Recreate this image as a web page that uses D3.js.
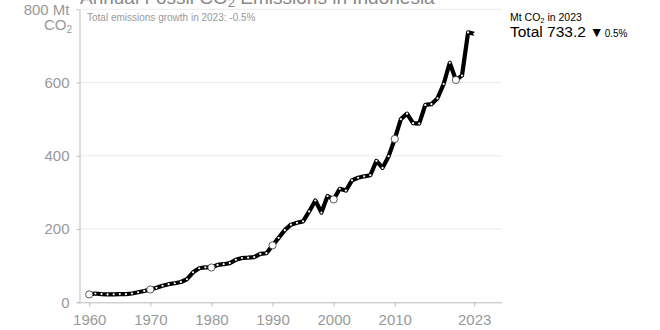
<!DOCTYPE html>
<html>
<head>
<meta charset="utf-8">
<script src="https://cdn.jsdelivr.net/npm/d3@7"></script>
<style>
  html, body { margin: 0; padding: 0; background: #fff; }
  svg { display: block; font-family: "Liberation Sans", Arial, Helvetica, sans-serif; }
</style>
</head>
<body>
<svg id="chart" width="660" height="330"></svg>
<script>
// Annual fossil CO2 emissions in Indonesia, Mt CO2
const years = d3.range(1960, 2024);
const emissions = [
  21.5, 24.0, 22.5, 21.5, 21.8, 22.5, 22.2, 24.0, 27.5, 31.0,
  35.0, 39.5, 45.0, 49.5, 52.0, 55.5, 63.0, 82.0, 93.0, 95.5,
  95.0, 102.0, 104.0, 107.0, 116.0, 121.0, 122.0, 123.5, 132.0, 134.0,
  155.5, 176.0, 197.0, 212.0, 217.0, 221.0, 248.0, 278.0, 245.0, 290.0,
  281.0, 310.0, 305.0, 333.0, 340.0, 344.0, 347.0, 386.0, 367.0, 399.0,
  446.0, 500.0, 515.0, 489.0, 488.0, 539.0, 541.0, 557.0, 596.0, 654.0,
  607.0, 619.0, 736.9, 733.2
];
const highlightYears = [1960, 1970, 1980, 1990, 2000, 2010, 2020];
const xTickValues = [1960, 1970, 1980, 1990, 2000, 2010, 2023];
const yTickValues = [0, 200, 400, 600, 800];

const lastYear = years[years.length - 1];
const lastValue = emissions[emissions.length - 1];
const prevValue = emissions[emissions.length - 2];
const growth = (lastValue - prevValue) / prevValue * 100;
const fmt1 = v => v.toFixed(1);

const data = years.map((y, i) => ({ year: y, value: emissions[i] }));

const svg = d3.select("#chart");
const grey = "#999";

const x = d3.scaleLinear().domain([1958, 2027.5]).range([77, 501.7]);
const y = d3.scaleLinear().domain([0, 800]).range([302.3, 9.3]);

// horizontal gridlines
svg.append("g")
  .selectAll("line")
  .data(yTickValues.filter(v => v > 0))
  .join("line")
  .attr("x1", 80).attr("x2", x.range()[1])
  .attr("y1", d => y(d)).attr("y2", d => y(d))
  .attr("stroke", "#ececec").attr("stroke-width", 1);

// x axis
const xAxis = svg.append("g")
  .attr("transform", `translate(0,${y(0)})`)
  .call(d3.axisBottom(x).tickValues(xTickValues).tickFormat(d3.format("d")).tickSize(4).tickSizeOuter(0));
xAxis.select(".domain").attr("stroke", "#bbb");
xAxis.selectAll(".tick line").attr("stroke", "#bbb");
xAxis.selectAll(".tick text")
  .attr("fill", grey).attr("font-size", 15).attr("dy", null).attr("y", 23)
  .attr("font-family", "Liberation Sans, Arial, sans-serif");

// y axis
const yAxis = svg.append("g")
  .attr("transform", "translate(79.5,0)")
  .call(d3.axisLeft(y).tickValues(yTickValues)
    .tickFormat(d => d === 800 ? "800 Mt" : d3.format("d")(d))
    .tickSize(3).tickSizeOuter(0).tickPadding(7));
yAxis.select(".domain").attr("stroke", "#bbb");
yAxis.selectAll(".tick line").attr("stroke", "#bbb");
yAxis.selectAll(".tick text")
  .attr("fill", grey).attr("font-size", 15)
  .attr("font-family", "Liberation Sans, Arial, sans-serif");

// unit second line under the top tick
const unit = svg.append("text")
  .attr("x", 72).attr("y", 29.5)
  .attr("text-anchor", "end").attr("fill", grey).attr("font-size", 15);
unit.append("tspan").text("CO");
unit.append("tspan").attr("font-size", 10).attr("dy", 3).text("2");

// title (partly above the top edge)
const title = svg.append("text")
  .attr("x", 80).attr("y", 4)
  .attr("fill", "#888").attr("font-size", 19);
title.append("tspan").text("Annual Fossil CO");
title.append("tspan").attr("font-size", 13).attr("dy", 3).text("2");
title.append("tspan").attr("dy", -3).text(" Emissions in Indonesia");

svg.append("text")
  .attr("x", 87).attr("y", 21)
  .attr("fill", grey).attr("font-size", 10)
  .text(`Total emissions growth in ${lastYear}: ${fmt1(growth)}%`);

// emissions line
const line = d3.line()
  .x(d => x(d.year)).y(d => y(d.value))
  .curve(d3.curveLinear);

svg.append("path")
  .datum(data)
  .attr("d", line)
  .attr("fill", "none")
  .attr("stroke", "#000")
  .attr("stroke-width", 4.2)
  .attr("stroke-linejoin", "round")
  .attr("stroke-linecap", "butt");

// yearly markers
svg.append("g")
  .selectAll("circle")
  .data(data)
  .join("circle")
  .attr("cx", d => x(d.year)).attr("cy", d => y(d.value))
  .attr("r", 1.1)
  .attr("fill", "#fff");

// decade markers
svg.append("g")
  .selectAll("circle")
  .data(data.filter(d => highlightYears.includes(d.year)))
  .join("circle")
  .attr("cx", d => x(d.year)).attr("cy", d => y(d.value))
  .attr("r", 3.6)
  .attr("fill", "#fff")
  .attr("stroke", "#333")
  .attr("stroke-width", 0.8);

// summary at right
const lbl = svg.append("text")
  .attr("x", 510).attr("y", 20.5)
  .attr("fill", "#000").attr("font-size", 10.5);
lbl.append("tspan").text("Mt CO");
lbl.append("tspan").attr("font-size", 7.5).attr("dy", 2).text("2");
lbl.append("tspan").attr("dy", -2).text(` in ${lastYear}`);

const total = svg.append("text")
  .attr("x", 510).attr("y", 37)
  .attr("fill", "#000").attr("font-size", 15.5);
total.append("tspan").text(`Total ${fmt1(lastValue)}`);
total.append("tspan").attr("font-size", 14).attr("dx", 4).text(growth < 0 ? "▼" : "▲");
total.append("tspan").attr("font-size", 10).attr("dx", 1).text(`${fmt1(Math.abs(growth))}%`);
</script>
</body>
</html>
